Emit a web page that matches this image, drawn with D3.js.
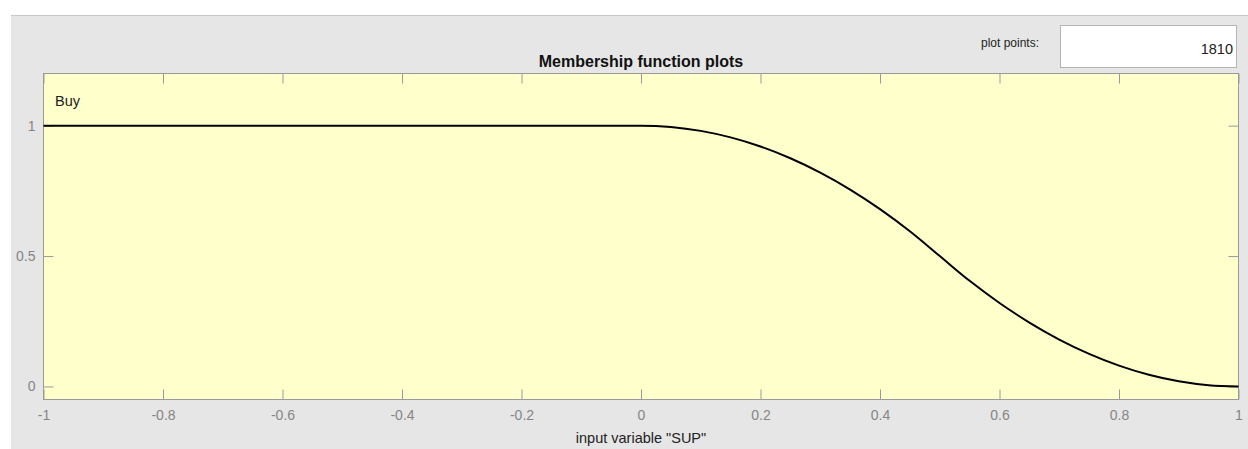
<!DOCTYPE html>
<html>
<head>
<meta charset="utf-8">
<script src="https://cdn.jsdelivr.net/npm/d3@7"></script>
<style>
  body { margin: 0; background: #fff; }
  svg { display: block; font-family: "Liberation Sans", Arial, sans-serif; }
</style>
</head>
<body>
<div id="chart"></div>
<script>
// values
const xValues = [-1, -0.5, 0, 0.05, 0.1, 0.15, 0.2, 0.25, 0.3, 0.35, 0.4, 0.45, 0.5,
                 0.55, 0.6, 0.65, 0.7, 0.75, 0.8, 0.85, 0.9, 0.95, 1];
const yValues = [1, 1, 1, 0.995, 0.98, 0.955, 0.92, 0.875, 0.82, 0.755, 0.68, 0.595, 0.5,
                 0.405, 0.32, 0.245, 0.18, 0.125, 0.08, 0.045, 0.02, 0.005, 0];
const xTicks = [-1, -0.8, -0.6, -0.4, -0.2, 0, 0.2, 0.4, 0.6, 0.8, 1];
const yTicks = [0, 0.5, 1];
const mfName = "Buy";
const plotPoints = "1810";

const W = 1248, H = 449;
const plot = { left: 43.5, top: 73.5, right: 1238.5, bottom: 399.5 };

const svg = d3.select("#chart").append("svg")
    .attr("width", W)
    .attr("height", H);

// figure panel
svg.append("rect").attr("x", 11).attr("y", 15).attr("width", W - 11).attr("height", H - 15)
    .attr("fill", "#e6e6e6");
svg.append("line").attr("x1", 11).attr("x2", W).attr("y1", 15.5).attr("y2", 15.5)
    .attr("stroke", "#c8c8c8");

const x = d3.scaleLinear().domain([-1, 1]).range([plot.left, plot.right]);
const y = d3.scaleLinear().domain([-0.05, 1.2]).range([plot.bottom, plot.top]);

svg.append("rect")
    .attr("x", plot.left).attr("y", plot.top)
    .attr("width", plot.right - plot.left).attr("height", plot.bottom - plot.top)
    .attr("fill", "#ffffcc");

const tickLen = 10;
const axColor = "#9a9a9a";
const labColor = "#858585";
const fmt = d => String(d); // plain hyphen like matlab

function styleAxis(g) {
    g.select(".domain").remove();
    g.selectAll(".tick line").attr("stroke", axColor);
    g.selectAll(".tick text").attr("fill", labColor).style("font-size", "14px");
}

// bottom
svg.append("g").attr("transform", `translate(0,${plot.bottom})`)
    .call(d3.axisBottom(x).tickValues(xTicks).tickSizeInner(-tickLen).tickSizeOuter(0)
        .tickPadding(11).tickFormat(fmt))
    .call(styleAxis);
// top
svg.append("g").attr("transform", `translate(0,${plot.top})`)
    .call(d3.axisTop(x).tickValues(xTicks).tickSizeInner(-tickLen).tickSizeOuter(0).tickFormat(""))
    .call(styleAxis);
// left
svg.append("g").attr("transform", `translate(${plot.left},0)`)
    .call(d3.axisLeft(y).tickValues(yTicks).tickSizeInner(-tickLen).tickSizeOuter(0)
        .tickPadding(8).tickFormat(fmt))
    .call(styleAxis);
// right
svg.append("g").attr("transform", `translate(${plot.right},0)`)
    .call(d3.axisRight(y).tickValues(yTicks).tickSizeInner(-tickLen).tickSizeOuter(0).tickFormat(""))
    .call(styleAxis);

// box
svg.append("rect")
    .attr("x", plot.left).attr("y", plot.top)
    .attr("width", plot.right - plot.left).attr("height", plot.bottom - plot.top)
    .attr("fill", "none").attr("stroke", axColor);

// curve
const data = xValues.map((d, i) => ({ x: d, y: yValues[i] }));
const line = d3.line().x(d => x(d.x)).y(d => y(d.y)).curve(d3.curveMonotoneX);
svg.append("path").datum(data)
    .attr("d", line)
    .attr("fill", "none")
    .attr("stroke", "#000")
    .attr("stroke-width", 2);

// mf label
svg.append("text").attr("x", 55).attr("y", 106)
    .attr("fill", "#222").style("font-size", "14.5px").text(mfName);

// title
svg.append("text").attr("x", 641).attr("y", 67)
    .attr("text-anchor", "middle").attr("fill", "#111")
    .style("font-size", "16px").style("font-weight", "bold")
    .text("Membership function plots");

// x label
svg.append("text").attr("x", 641).attr("y", 443)
    .attr("text-anchor", "middle").attr("fill", "#222")
    .style("font-size", "14.5px")
    .text('input variable "SUP"');

// plot points box
svg.append("text").attr("x", 1039).attr("y", 47)
    .attr("text-anchor", "end").attr("fill", "#222")
    .style("font-size", "12px").text("plot points:");
svg.append("rect").attr("x", 1060.5).attr("y", 25.5).attr("width", 176).attr("height", 42)
    .attr("fill", "#fff").attr("stroke", "#b4b4b4");
svg.append("text").attr("x", 1233).attr("y", 54)
    .attr("text-anchor", "end").attr("fill", "#222")
    .style("font-size", "14.5px").text(plotPoints);
</script>
</body>
</html>
